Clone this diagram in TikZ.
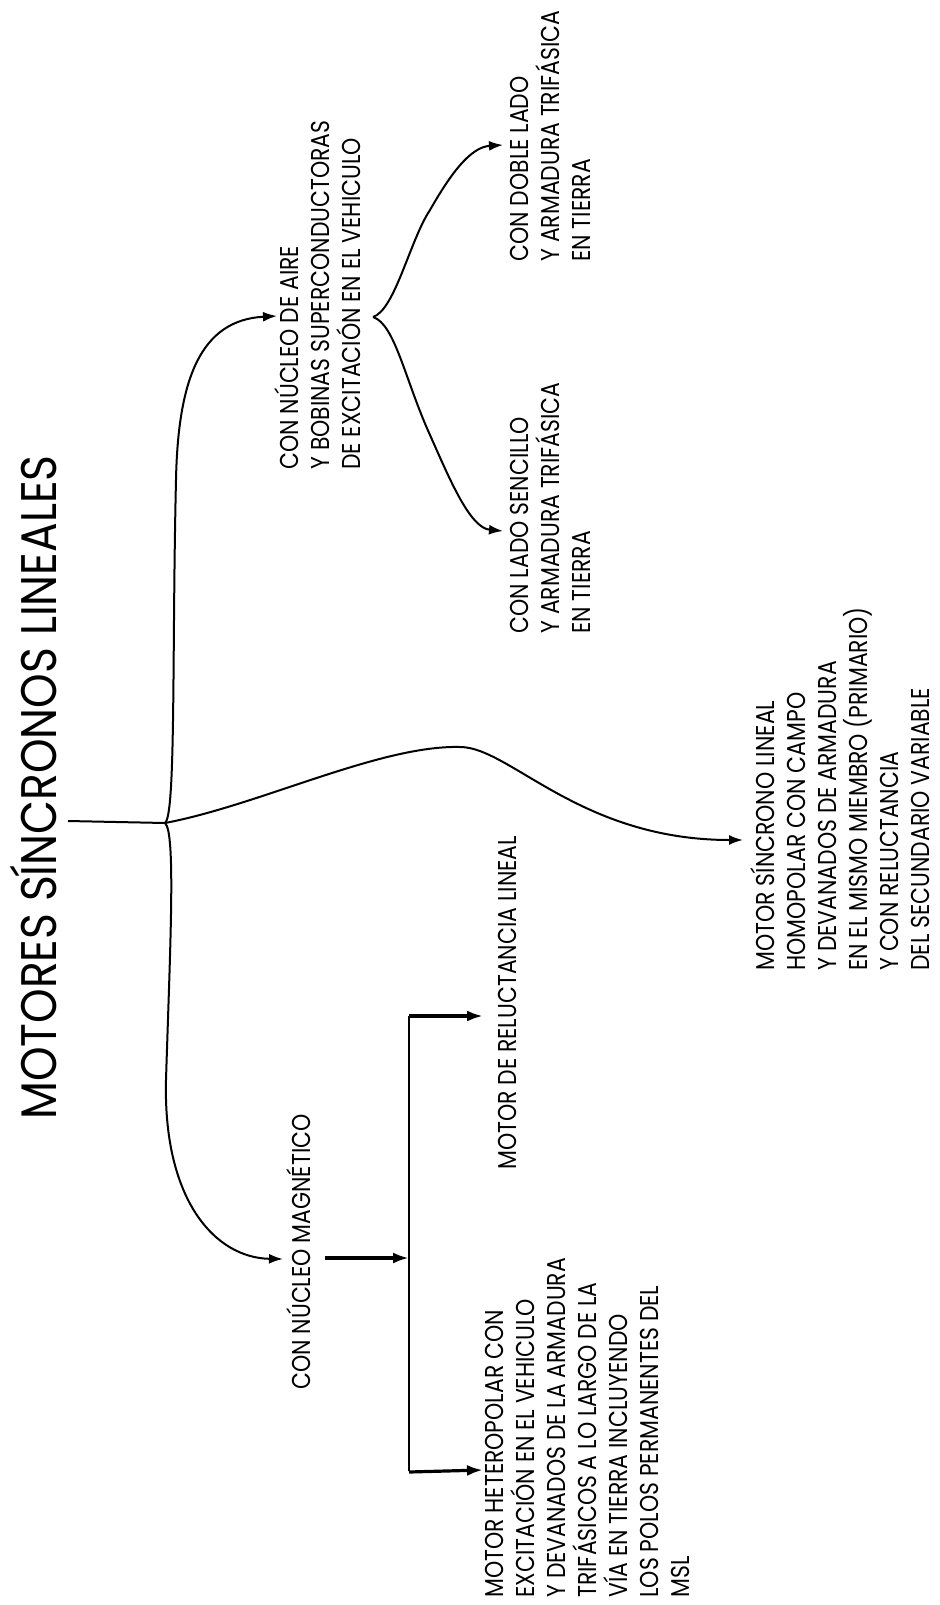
\documentclass[tikz,border=0pt]{standalone}
\usepackage{fontspec}
\setmainfont{Poppins}
\newfontfamily\lblfont[FakeStretch=0.85]{Poppins}
\newfontfamily\ttlfont[FakeStretch=0.88]{Poppins}
\usetikzlibrary{calc,arrows.meta}
\tikzset{
  lbl/.style={rotate=90,anchor=base west,inner sep=0pt,align=left,
    font=\lblfont\fontsize{12.9}{15.5}\selectfont},
  conn/.style={line width=1pt,-{Latex[length=7pt,width=5pt]}},
  bar/.style={line width=1.6pt,-{Latex[length=8pt,width=5.5pt]}},
}

\begin{document}
\begin{tikzpicture}[x=0.5pt,y=-0.5pt]
      \useasboundingbox (0,0) rectangle (939,1605);

      % labels, placed at the baseline of their last line
      \node[lbl,font=\ttlfont\fontsize{25}{30}\selectfont] (title) at (56,1120) {MOTORES SÍNCRONOS LINEALES};
      \node[lbl] (air) at (360,470) {CON NÚCLEO DE AIRE\\Y BOBINAS SUPERCONDUCTORAS\\DE EXCITACIÓN EN EL VEHICULO};
      \node[lbl] (doble) at (590,262) {CON DOBLE LADO\\Y ARMADURA TRIFÁSICA\\EN TIERRA};
      \node[lbl] (sencillo) at (590,634) {CON LADO SENCILLO\\Y ARMADURA TRIFÁSICA\\EN TIERRA};
      \node[lbl] (homo) at (929,971) {MOTOR SÍNCRONO LINEAL\\HOMOPOLAR CON CAMPO\\Y DEVANADOS DE ARMADURA\\EN EL MISMO MIEMBRO (PRIMARIO)\\Y CON RELUCTANCIA\\DEL SECUNDARIO VARIABLE};
      \node[lbl] (magn) at (310,1390) {CON NÚCLEO MAGNÉTICO};
      \node[lbl] (reluc) at (516,1170) {MOTOR DE RELUCTANCIA LINEAL};
      \node[lbl] (hetero) at (689,1598) {MOTOR HETEROPOLAR CON\\EXCITACIÓN EN EL VEHICULO\\Y DEVANADOS DE LA ARMADURA\\TRIFÁSICOS A LO LARGO DE LA\\VÍA EN TIERRA INCLUYENDO\\LOS POLOS PERMANENTES DEL\\MSL};

      % branch points and arrow ends
      \coordinate (stem) at (68,821);
      \coordinate (J) at (165,823);
      \coordinate (F) at (373,317);
      \coordinate (airin) at (277,316);
      \coordinate (dobin) at (503,145);
      \coordinate (senin) at (503,531);
      \coordinate (homin) at (743,840);
      \coordinate (magin) at (283,1259);
      \coordinate (magout) at (325,1258);
      \coordinate (bustop) at (409,1016);
      \coordinate (busmid) at (409,1258);
      \coordinate (busbot) at (409,1471);
      \coordinate (relin) at (483,1016);
      \coordinate (hetin) at (483,1470);

      \draw[line width=1pt] (stem) -- (J);
      \draw[conn] (J) .. controls (176,815) and (172,650) .. (176,480)
                      .. controls (178,380) and (200,320) .. (airin);
      \draw[conn] (J) .. controls (176,832) and (170,950) .. (166,1080)
                      .. controls (163,1200) and (215,1258) .. (magin);
      \draw[conn] (J) .. controls (260,805) and (380,745) .. (460,747)
                      .. controls (510,747) and (580,840) .. (homin);
      \draw[conn] (F) .. controls (395,310) and (410,240) .. (430,210)
                      .. controls (450,175) and (470,147) .. (dobin);
      \draw[conn] (F) .. controls (395,324) and (405,380) .. (430,435)
                      .. controls (450,480) and (470,528) .. (senin);

      \draw[bar] (magout) -- (busmid);
      \draw[line width=0.7pt] (bustop) -- (busbot);
      \draw[bar] (bustop) -- (relin);
      \draw[bar] ([yshift=-0.5pt]busbot) -- (hetin);
\end{tikzpicture}
\end{document}
